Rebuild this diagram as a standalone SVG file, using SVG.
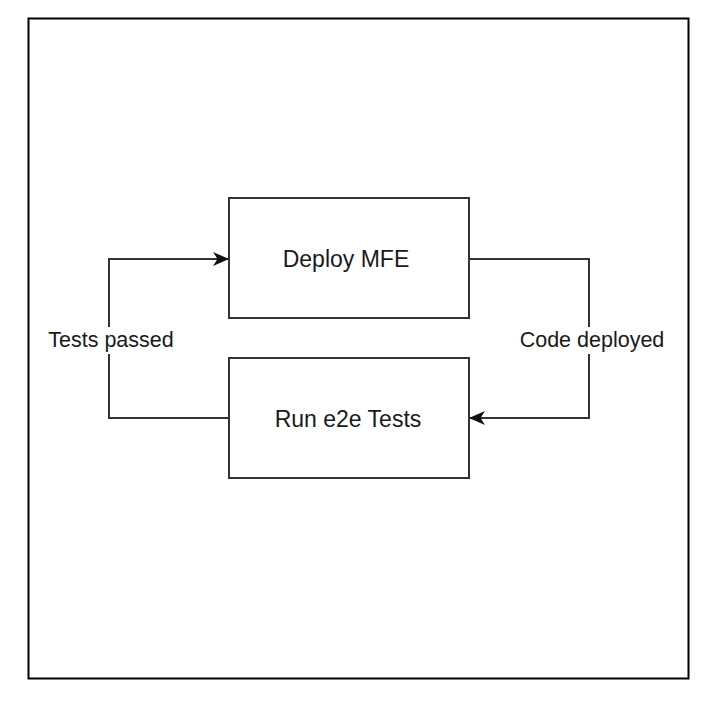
<svg xmlns="http://www.w3.org/2000/svg" width="708" height="702" viewBox="0 0 708 702">
<style>
.node{fill:#fff;stroke:#333;stroke-width:2}
.edge{fill:none;stroke:#333;stroke-width:2}
.t{font-family:"Liberation Sans",Arial,sans-serif;fill:#1a1a1a;text-anchor:middle;dominant-baseline:central}
.e{font-size:21.5px}
.n{font-size:23px}
.lbl{fill:#fff}
</style>
<defs>
<marker id="arr" viewBox="0 0 16 14" refX="15" refY="7" markerWidth="16" markerHeight="14" markerUnits="userSpaceOnUse" orient="auto">
<path d="M0,0 L16,7 L0,14 L4.5,7 Z" fill="#111"/>
</marker>
</defs>
<rect x="0" y="0" width="708" height="702" fill="#fff"/>
<rect x="28.5" y="18.5" width="660" height="660" fill="#fff" stroke="#000" stroke-width="2"/>
<g id="connectors">
<path class="edge" d="M229,418 H109 V259 H228" marker-end="url(#arr)"/>
<path class="edge" d="M469,259 H589 V418 H470" marker-end="url(#arr)"/>
<rect class="lbl" x="44" y="327" width="134" height="27"/>
<text class="t e" x="111" y="340">Tests passed</text>
<rect class="lbl" x="515" y="327" width="154" height="27"/>
<text class="t e" x="592" y="340">Code deployed</text>
</g>
<g id="deploy">
<rect class="node" x="229" y="198" width="240" height="120"/>
<text class="t n" x="346" y="259">Deploy MFE</text>
</g>
<g id="tests">
<rect class="node" x="229" y="358" width="240" height="120"/>
<text class="t n" x="348" y="419">Run e2e Tests</text>
</g>
</svg>
